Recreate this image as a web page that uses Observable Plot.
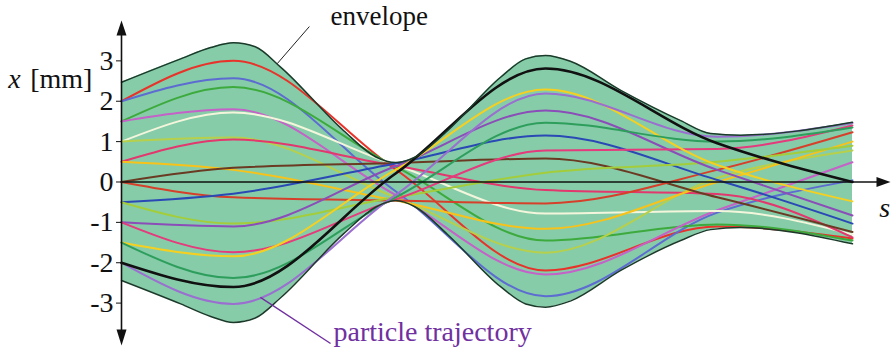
<!DOCTYPE html>
<html>
<head>
<meta charset="utf-8">
<script src="https://cdn.jsdelivr.net/npm/d3@7"></script>
<script src="https://cdn.jsdelivr.net/npm/@observablehq/plot@0.6"></script>
<style>
  body { margin: 0; background: #fff; }
</style>
</head>
<body>
<div id="chart"></div>
<script>
// Beam envelope along the beam line s (arbitrary units), transverse position x in mm
const envS     = [0, 0.81, 1.22, 1.53, 1.83, 2.18, 3.04, 3.48, 3.75, 4.02, 4.46, 5.19, 5.53, 5.80, 6.14, 6.83, 7.65, 8.06, 8.47, 10];
const envUpper = [2.47, 3.05, 3.33, 3.45, 3.35, 2.84, 1.27, 0.62, 0.48, 0.62, 1.27, 2.60, 3.05, 3.13, 2.99, 2.27, 1.52, 1.20, 1.16, 1.48];
const envLower = [-2.44, -3.02, -3.33, -3.48, -3.37, -2.86, -1.28, -0.62, -0.46, -0.62, -1.30, -2.60, -3.02, -3.10, -2.95, -2.19, -1.45, -1.18, -1.13, -1.53];

// Particle trajectories sampled at: entrance, lens 1, waist, lens 2, lens 3, exit
const nodeS = [0, 1.53, 3.75, 5.80, 8.15, 10];
const trajectoryColors = [
  "#e8332a", "#5d6cd0", "#3daa3d", "#c462c8", "#f4f6dc", "#b7d04c",
  "#e2386e", "#f7c21a", "#6a3b22", "#d6402a", "#2a49b5", "#a3cd3a",
  "#8b4db8", "#e53a7c", "#f5d020", "#2e9e5c", "#9a6fd0", "#111111"
];
const trajectoryValues = [
  [2.0, 3.0, 0.31, -2.19, -1.10, -1.40],
  [2.0, 2.57, -0.23, -2.83, -0.76, 0.04],
  [1.5, 2.35, 0.38, -1.45, -1.05, -1.45],
  [1.5, 1.80, -0.32, -2.29, -0.70, 0.49],
  [1.0, 1.72, 0.42, -0.78, -0.72, -1.30],
  [1.0, 1.10, -0.38, -1.75, 0.10, 0.78],
  [0.5, 1.05, 0.40, -0.20, -0.30, -1.37],
  [0.5, 0.30, -0.46, -1.16, 0.00, 1.00],
  [0.0, 0.35, 0.47, 0.58, -0.38, -1.24],
  [0.0, -0.38, -0.46, -0.53, 0.30, 1.23],
  [-0.5, -0.29, 0.46, 1.15, 0.05, -1.03],
  [-0.5, -1.03, -0.38, 0.23, 0.50, 0.90],
  [-1.0, -1.10, 0.39, 1.77, 0.30, -0.83],
  [-1.0, -1.74, -0.43, 0.78, 0.82, 1.40],
  [-1.5, -1.84, 0.30, 2.29, 0.42, -0.48],
  [-1.5, -2.38, -0.38, 1.47, 1.00, 1.35],
  [-2.0, -3.02, -0.32, 2.19, 1.12, 1.46],
  [-2.0, -2.60, 0.21, 2.81, 0.96, 0.00]
];
const yTicks = [-3, -2, -1, 0, 1, 2, 3];

const envelope = envS.map((s, i) => ({s, hi: envUpper[i], lo: envLower[i]}));
const trajectories = trajectoryValues.flatMap((vals, i) =>
  vals.map((x, j) => ({s: nodeS[j], x, id: i, color: trajectoryColors[i]}))
);

// Filled arrowheads for the axes; the tip sits on the dot's position
const arrowUp    = {draw(c) { c.moveTo(0, 0); c.lineTo(5, 15); c.lineTo(-5, 15); c.closePath(); }};
const arrowDown  = {draw(c) { c.moveTo(0, 0); c.lineTo(5, -16); c.lineTo(-5, -16); c.closePath(); }};
const arrowRight = {draw(c) { c.moveTo(0, 0); c.lineTo(-14, -5); c.lineTo(-14, 5); c.closePath(); }};

const serif = "'Liberation Serif', 'Times New Roman', serif";

const chart = Plot.plot({
  width: 891,
  height: 360,
  marginLeft: 121,
  marginRight: 1,
  marginTop: 20,
  marginBottom: 15,
  style: {fontFamily: serif, fontSize: "28px", background: "#fff", color: "#111"},
  x: {domain: [0, 10.52], axis: null},
  y: {domain: [-4.05, 4.0]},
  marks: [
    Plot.areaY(envelope, {x: "s", y1: "lo", y2: "hi", fill: "#86cca9", curve: "monotone-x"}),
    Plot.line(trajectories, {
      x: "s", y: "x", z: "id", stroke: "color",
      strokeWidth: d => d.color === "#111111" ? 2.6 : 2,
      curve: "monotone-x"
    }),
    Plot.line(envelope, {x: "s", y: "hi", stroke: "#1b3a2a", strokeWidth: 1.5, curve: "monotone-x"}),
    Plot.line(envelope, {x: "s", y: "lo", stroke: "#1b3a2a", strokeWidth: 1.5, curve: "monotone-x"}),
    // axes
    Plot.ruleY([0], {x1: 0, x2: 10.4, stroke: "#111", strokeWidth: 1.6}),
    Plot.ruleX([0], {y1: -3.7, y2: 3.75, stroke: "#111", strokeWidth: 1.6}),
    Plot.dot([0], {x: 0, y: 4.0, symbol: arrowUp, fill: "#111", stroke: "none"}),
    Plot.dot([0], {x: 0, y: -4.05, symbol: arrowDown, fill: "#111", stroke: "none"}),
    Plot.dot([0], {x: 10.52, y: 0, symbol: arrowRight, fill: "#111", stroke: "none"}),
    Plot.axisY({
      ticks: yTicks, tickFormat: d => String(d), tickSize: 5, tickPadding: 3,
      label: null, fontSize: 28, stroke: "#111"
    }),
    // axis labels
    Plot.text(["x"], {x: -1.55, y: 2.34, textAnchor: "start", lineAnchor: "bottom", fontSize: 28, fontStyle: "italic", fill: "#111"}),
    Plot.text(["[mm]"], {x: -1.25, y: 2.34, textAnchor: "start", lineAnchor: "bottom", fontSize: 28, fill: "#111"}),
    Plot.text(["s"], {x: 10.44, y: -0.86, textAnchor: "middle", lineAnchor: "bottom", fontSize: 28, fontStyle: "italic", fill: "#111"}),
    // annotations
    Plot.link([0], {x1: 2.57, y1: 3.85, x2: 2.13, y2: 2.93, stroke: "#222", strokeWidth: 1}),
    Plot.text(["envelope"], {x: 2.86, y: 3.88, textAnchor: "start", lineAnchor: "bottom", fontSize: 27, fill: "#111"}),
    Plot.link([0], {x1: 1.90, y1: -2.86, x2: 2.86, y2: -4.0, stroke: "#7030a0", strokeWidth: 1.4}),
    Plot.text(["particle trajectory"], {x: 2.90, y: -3.93, textAnchor: "start", lineAnchor: "bottom", fontSize: 28, fill: "#7030a0"})
  ]
});

document.getElementById("chart").appendChild(chart);
</script>
</body>
</html>
